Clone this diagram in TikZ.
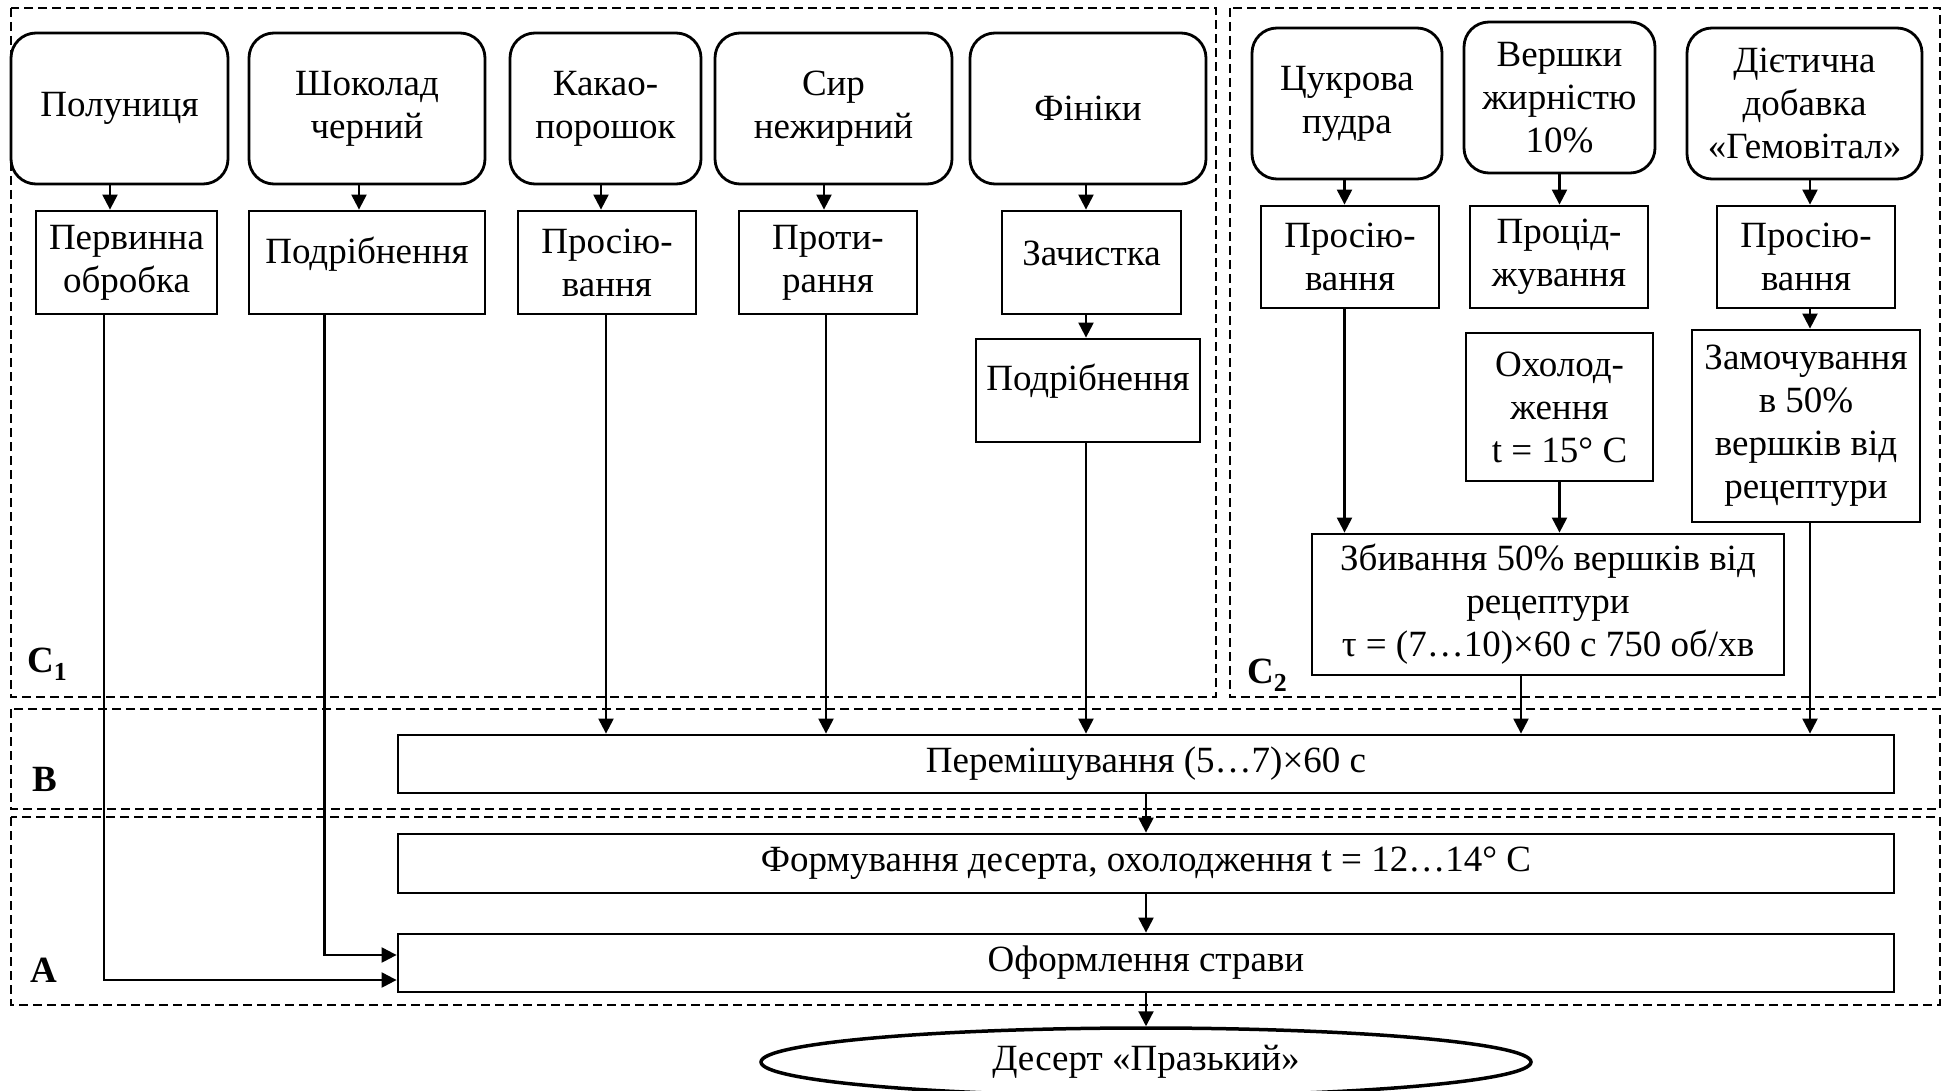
\documentclass[tikz,border=0pt]{standalone}
\usepackage{fontspec}
\setmainfont{Liberation Serif}
\usetikzlibrary{arrows.meta,shapes.geometric}

\begin{document}
\begin{tikzpicture}[x=1pt,y=-1pt,
  txt/.style={font=\fontsize{37}{43}\selectfont},
  box/.style={txt, draw, line width=2.8pt, inner sep=0pt, align=center},
  ingr/.style={box, rounded corners=25pt},
  arr/.style={line width=2.2pt, -{Triangle[length=15pt,width=15pt]}},
  zone/.style={draw, line width=1.7pt, dash pattern=on 9pt off 5pt},
  zonelabel/.style={font=\fontsize{37}{43}\selectfont\bfseries, anchor=base west, inner sep=0pt}
]
\useasboundingbox (0,0) rectangle (1948,1091);

% stage zones
\draw[zone] (11,8) rectangle (1216,697);
\draw[zone] (1230,8) rectangle (1940,697);
\draw[zone] (11,709) rectangle (1940,809);
\draw[zone] (11,817) rectangle (1940,1005);
\node[zonelabel] (lc1) at (27,672) {C\textsubscript{1}};
\node[zonelabel] (lc2) at (1247,683) {C\textsubscript{2}};
\node[zonelabel] (lb) at (32,791) {B};
\node[zonelabel] (la) at (30,982) {A};

% raw materials, stage C1
\node[ingr, minimum width=217pt, minimum height=151pt] (polu)  at (119.5,108.5) {Полуниця};
\node[ingr, minimum width=236pt, minimum height=151pt] (shok)  at (367,108.5)   {Шоколад\\черний};
\node[ingr, minimum width=191pt, minimum height=151pt] (kakao) at (605.5,108.5) {Какао-\\порошок};
\node[ingr, minimum width=237pt, minimum height=151pt] (syr)   at (833.5,108.5) {Сир\\нежирний};
\node[ingr, minimum width=236pt, minimum height=151pt] (fin)   at (1088,108.5)  {Фініки};

% preparation, stage C1
\node[box, minimum width=181pt, minimum height=103pt] (perv)  at (126.5,262.5) {Первинна\\обробка};
\node[box, minimum width=236pt, minimum height=103pt] (podr1) at (367,262.5)   {\raisebox{8pt}[\height][\depth]{Подрібнення}};
\node[box, minimum width=178pt, minimum height=103pt] (pros1) at (607,262.5)   {Просію-\\вання};
\node[box, minimum width=178pt, minimum height=103pt] (proty) at (828,262.5)   {Проти-\\рання};
\node[box, minimum width=179pt, minimum height=103pt] (zach)  at (1091.5,262.5){\raisebox{9pt}[\height][\depth]{Зачистка}};
\node[box, minimum width=224pt, minimum height=103pt] (podr2) at (1088,390.5)  {\raisebox{9pt}[\height][\depth]{Подрібнення}};

% raw materials, stage C2
\node[ingr, minimum width=190pt, minimum height=151pt] (cukr)  at (1347,103.5)   {Цукрова\\пудра};
\node[ingr, minimum width=191pt, minimum height=151pt] (versh) at (1559.5,97.5)  {Вершки\\жирністю\\10\%};
\node[ingr, minimum width=235pt, minimum height=151pt] (diet)  at (1804.5,103.5) {Дієтична\\добавка\\«Гемовітал»};

% preparation, stage C2
\node[box, minimum width=178pt, minimum height=102pt] (pros2)  at (1350,257)    {Просію-\\вання};
\node[box, minimum width=178pt, minimum height=102pt] (proc)   at (1559,257)    {Процід-\\жування};
\node[box, minimum width=178pt, minimum height=102pt] (pros3)  at (1806,257)    {Просію-\\вання};
\node[box, minimum width=187pt, minimum height=148pt] (ohol)   at (1559.5,407)  {Охолод-\\ження\\t = 15° C};
\node[box, minimum width=228pt, minimum height=192pt] (zamoch) at (1806,426)    {Замочування\\в 50\%\\вершків від\\рецептури};
\node[box, minimum width=472pt, minimum height=141pt] (zbyv)   at (1548,604.5)  {Збивання 50\% вершків від\\рецептури\\τ = (7…10)×60 с 750 об/хв};

% stages B and A
\node[box, minimum width=1496pt, minimum height=58pt] (mix)  at (1146,764)   {Перемішування (5…7)×60 с};
\node[box, minimum width=1496pt, minimum height=59pt] (form) at (1146,863.5) {Формування десерта, охолодження t = 12…14° C};
\node[box, minimum width=1496pt, minimum height=58pt] (orn)  at (1146,963)   {Оформлення страви};
\node[txt, draw, ellipse, line width=3.5pt, inner sep=0pt,
      minimum width=770pt, minimum height=68pt] (dessert) at (1146,1062) {Десерт «Празький»};

% flows, stage C1
\draw[arr] (polu.south -| 110,0)  -- (perv.north -| 110,0);
\draw[arr] (shok.south -| 359,0)  -- (podr1.north -| 359,0);
\draw[arr] (kakao.south -| 601,0) -- (pros1.north -| 601,0);
\draw[arr] (syr.south -| 824,0)   -- (proty.north -| 824,0);
\draw[arr] (fin.south -| 1086,0)  -- (zach.north -| 1086,0);
\draw[arr] (zach.south -| 1086,0) -- (podr2.north -| 1086,0);
\draw[arr] (perv.south -| 104,0)  |- (orn.west |- 0,980);
\draw[arr] (podr1.south -| 324.5,0) |- (orn.west |- 0,955);
\draw[arr] (pros1.south -| 606,0) -- (mix.north -| 606,0);
\draw[arr] (proty.south -| 826,0) -- (mix.north -| 826,0);
\draw[arr] (podr2.south -| 1086,0) -- (mix.north -| 1086,0);

% flows, stage C2
\draw[arr] (cukr.south -| 1344.5,0)  -- (pros2.north -| 1344.5,0);
\draw[arr] (versh.south -| 1559.5,0) -- (proc.north -| 1559.5,0);
\draw[arr] (diet.south -| 1810,0)    -- (pros3.north -| 1810,0);
\draw[arr] (pros3.south -| 1810,0)   -- (zamoch.north -| 1810,0);
\draw[arr] (pros2.south -| 1344.5,0) -- (zbyv.north -| 1344.5,0);
\draw[arr] (ohol.south -| 1559.5,0)  -- (zbyv.north -| 1559.5,0);
\draw[arr] (zbyv.south -| 1521,0)    -- (mix.north -| 1521,0);
\draw[arr] (zamoch.south -| 1810,0)  -- (mix.north -| 1810,0);

% flows, stages B and A
\draw[arr] (mix.south)  -- (form.north);
\draw[arr] (form.south) -- (orn.north);
\draw[arr] (orn.south)  -- (dessert.north);
\end{tikzpicture}
\end{document}
